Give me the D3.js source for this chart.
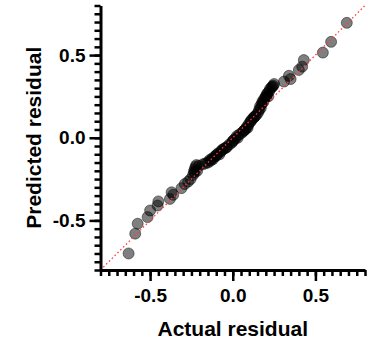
<!DOCTYPE html>
<html>
<head>
<meta charset="utf-8">
<script src="https://cdn.jsdelivr.net/npm/d3@7"></script>
<style>
  body { margin: 0; background: #fff; }
  text { font-family: "Liberation Sans", Arial, sans-serif; font-weight: bold; }
</style>
</head>
<body>
<div id="plot"></div>
<script>
// actual vs predicted residuals
const actual = [
  -0.63, -0.59, -0.575, -0.515, -0.50, -0.455, -0.45, -0.38, -0.37, -0.36,
  -0.31, -0.29, -0.27, -0.255, -0.24, -0.235, -0.23, -0.225, -0.215, -0.22,
  -0.18, -0.165, -0.15, -0.135, -0.12, -0.11, -0.10, -0.09, -0.075, -0.065,
  -0.05, -0.035, -0.02, -0.005, 0.005, 0.015, 0.025, 0.04, 0.055, 0.065,
  0.075, 0.085, 0.095, 0.105, 0.115, 0.125, 0.135, 0.145, 0.155, 0.16,
  0.165, 0.175, 0.18, 0.19, 0.20, 0.205, 0.21, 0.22, 0.225, 0.235,
  0.245, 0.25, 0.31, 0.34, 0.35, 0.40, 0.42, 0.43, 0.545, 0.595, 0.69,
  -0.14, -0.06, 0.0, 0.07, 0.11, 0.17, 0.215, -0.23, -0.10,
  -0.205, -0.125, -0.08, -0.04, 0.03, 0.09, 0.13, 0.185, 0.2, 0.24
];
const predicted = [
  -0.70, -0.58, -0.52, -0.48, -0.44, -0.41, -0.385, -0.37, -0.33, -0.345,
  -0.305, -0.28, -0.265, -0.25, -0.225, -0.205, -0.19, -0.175, -0.20, -0.165,
  -0.16, -0.155, -0.15, -0.14, -0.13, -0.115, -0.105, -0.095, -0.085, -0.075,
  -0.065, -0.055, -0.04, -0.03, -0.015, -0.005, 0.01, 0.02, 0.03, 0.04,
  0.05, 0.065, 0.08, 0.095, 0.11, 0.12, 0.13, 0.14, 0.155, 0.17,
  0.19, 0.205, 0.22, 0.235, 0.245, 0.26, 0.27, 0.28, 0.295, 0.305,
  0.315, 0.325, 0.34, 0.375, 0.355, 0.41, 0.43, 0.47, 0.515, 0.58, 0.695,
  -0.135, -0.07, -0.02, 0.045, 0.1, 0.18, 0.25, -0.21, -0.11,
  -0.17, -0.125, -0.1, -0.06, 0.0, 0.06, 0.125, 0.215, 0.25, 0.31
];
const majorTicks = [-0.5, 0.0, 0.5];
const minorTicks = d3.range(-16, 17).map(i => i * 0.05);

const width = 385;
const height = 343;

const x = d3.scaleLinear().domain([-0.8, 0.8]).range([100.5, 365]);
const y = d3.scaleLinear().domain([-0.8, 0.8]).range([270, 5.5]);

const fmt = d => d3.format(".1f")(d).replace("\u2212", "-");

const svg = d3.select("#plot").append("svg")
    .attr("width", width)
    .attr("height", height);

// points
svg.append("g")
    .selectAll("circle")
    .data(actual.map((a, i) => [a, predicted[i]]))
    .enter().append("circle")
    .attr("cx", d => x(d[0]))
    .attr("cy", d => y(d[1]))
    .attr("r", 5.5)
    .attr("fill", "#000")
    .attr("fill-opacity", 0.5)
    .attr("stroke", "#000")
    .attr("stroke-opacity", 0.45)
    .attr("stroke-width", 1);

// identity line
svg.append("line")
    .attr("x1", x(-0.8)).attr("y1", y(-0.8))
    .attr("x2", x(0.8)).attr("y2", y(0.8))
    .attr("stroke", "#ff3b3b")
    .attr("stroke-width", 1.3)
    .attr("stroke-dasharray", "1.5,2.5");

// minor ticks
svg.append("g")
    .attr("transform", `translate(0,${y(-0.8)})`)
    .call(d3.axisBottom(x).tickValues(minorTicks).tickSize(6).tickFormat(""))
    .call(g => g.select(".domain").remove())
    .selectAll("line").attr("stroke-width", 2.5);

svg.append("g")
    .attr("transform", `translate(${x(-0.8)},0)`)
    .call(d3.axisLeft(y).tickValues(minorTicks).tickSize(6).tickFormat(""))
    .call(g => g.select(".domain").remove())
    .selectAll("line").attr("stroke-width", 2.5);

// major ticks + labels
const xAxis = svg.append("g")
    .attr("transform", `translate(0,${y(-0.8)})`)
    .call(d3.axisBottom(x).tickValues(majorTicks).tickSize(11).tickSizeOuter(0).tickPadding(8).tickFormat(fmt));
xAxis.select(".domain").attr("stroke-width", 3);
xAxis.selectAll(".tick line").attr("stroke-width", 2.5);
xAxis.selectAll("text").attr("font-size", 19).attr("fill", "#000");

const yAxis = svg.append("g")
    .attr("transform", `translate(${x(-0.8)},0)`)
    .call(d3.axisLeft(y).tickValues(majorTicks).tickSize(11).tickSizeOuter(0).tickPadding(4).tickFormat(fmt));
yAxis.select(".domain").attr("stroke-width", 3);
yAxis.selectAll(".tick line").attr("stroke-width", 2.5);
yAxis.selectAll("text").attr("font-size", 19).attr("fill", "#000");

// axis titles
svg.append("text")
    .attr("x", (x(-0.8) + x(0.8)) / 2)
    .attr("y", 336)
    .attr("text-anchor", "middle")
    .attr("font-size", 21)
    .text("Actual residual");

svg.append("text")
    .attr("transform", `translate(41,${(y(-0.8) + y(0.8)) / 2}) rotate(-90)`)
    .attr("text-anchor", "middle")
    .attr("font-size", 21)
    .text("Predicted residual");
</script>
</body>
</html>
